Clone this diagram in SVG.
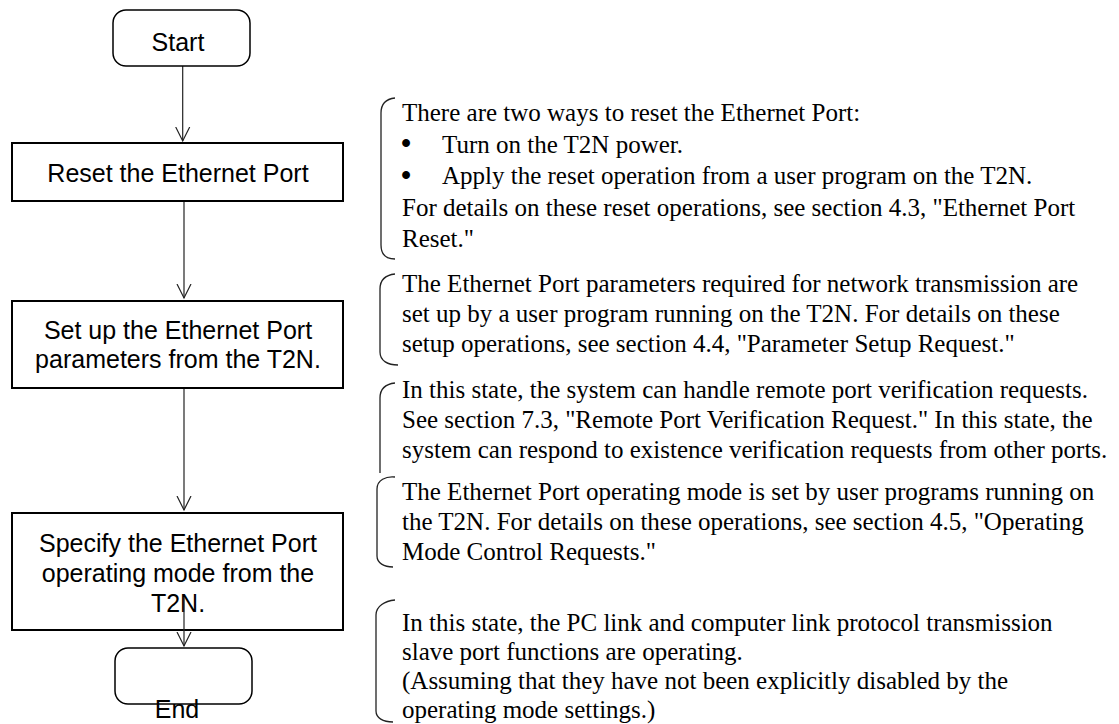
<svg xmlns="http://www.w3.org/2000/svg" width="1119" height="724" viewBox="0 0 1119 724">
<style>
.box{fill:#fff;stroke:#000;stroke-width:2}
.term{fill:#fff;stroke:#000;stroke-width:1.5}
.lbl{font-family:"Liberation Sans",Arial,sans-serif;font-size:25px;fill:#000;text-anchor:middle}
.note{font-family:"Liberation Serif","Times New Roman",serif;font-size:25px;fill:#000}
.bul{font-family:"Liberation Serif","Times New Roman",serif;font-size:29px;font-weight:bold;fill:#000}
.conn{stroke:#222;stroke-width:1.2;fill:none}
.brk{stroke:#222;stroke-width:1.3;fill:none}
</style>
<defs>
<marker id="v" viewBox="0 0 16 16" refX="14" refY="8" markerWidth="16" markerHeight="16" markerUnits="userSpaceOnUse" orient="auto">
<path d="M0,1 L14,8 L0,15" fill="none" stroke="#222" stroke-width="1.2"/>
</marker>
</defs>
<rect width="1119" height="724" fill="#fff"/>
<g id="connectors">
<line class="conn" x1="182.7" y1="66" x2="182.7" y2="141" marker-end="url(#v)"/>
<line class="conn" x1="184" y1="199" x2="184" y2="298" marker-end="url(#v)"/>
<line class="conn" x1="184" y1="385" x2="184" y2="510" marker-end="url(#v)"/>
</g>
<g id="start">
<rect class="term" x="113" y="10" width="137" height="56" rx="13"/>
<text class="lbl" x="178" y="51">Start</text>
</g>
<g id="reset">
<rect class="box" x="12" y="143" width="331" height="58"/>
<text class="lbl" x="178" y="182">Reset the Ethernet Port</text>
</g>
<g id="setup">
<rect class="box" x="12" y="301" width="331" height="87"/>
<text class="lbl" x="178" y="339">Set up the Ethernet Port</text>
<text class="lbl" x="178" y="368">parameters from the T2N.</text>
</g>
<g id="specify">
<rect class="box" x="12" y="513" width="331" height="117"/>
<text class="lbl" x="178" y="552">Specify the Ethernet Port</text>
<text class="lbl" x="178" y="582">operating mode from the</text>
<text class="lbl" x="178" y="612">T2N.</text>
</g>
<g id="end">
<rect class="term" x="115" y="648" width="137" height="56" rx="13"/>
<text class="lbl" x="177" y="718">End</text>
</g>
<g id="connector-end">
<line class="conn" x1="184" y1="597" x2="184" y2="646" marker-end="url(#v)"/>
</g>
<g id="note1">
<path class="brk" d="M395,98 C386,99 381,104 381,113 V245 C381,254 386,259 395,259"/>
<text class="note" x="402" y="121">There are two ways to reset the Ethernet Port:</text>
<text class="bul" x="401" y="153">•</text>
<text class="note" x="442" y="152.5">Turn on the T2N power.</text>
<text class="bul" x="401" y="184.5">•</text>
<text class="note" x="442" y="184">Apply the reset operation from a user program on the T2N.</text>
<text class="note" x="402" y="215.5">For details on these reset operations, see section 4.3, "Ethernet Port</text>
<text class="note" x="402" y="247">Reset."</text>
</g>
<g id="note2">
<path class="brk" d="M395,274 C386,275 380,280 380,289 V352 C380,361 388,365 398,365"/>
<text class="note" x="402" y="292">The Ethernet Port parameters required for network transmission are</text>
<text class="note" x="402" y="322">set up by a user program running on the T2N. For details on these</text>
<text class="note" x="402" y="352">setup operations, see section 4.4, "Parameter Setup Request."</text>
</g>
<g id="note3">
<path class="brk" d="M395,383 C386,384 380,389 380,398 V473"/>
<text class="note" x="402" y="398">In this state, the system can handle remote port verification requests.</text>
<text class="note" x="402" y="428">See section 7.3, "Remote Port Verification Request." In this state, the</text>
<text class="note" x="402" y="458">system can respond to existence verification requests from other ports.</text>
</g>
<g id="note4">
<path class="brk" d="M395,477 C386,476 377,480 377,489 V556 C377,563 384,567 393,567"/>
<text class="note" x="402" y="500">The Ethernet Port operating mode is set by user programs running on</text>
<text class="note" x="402" y="530">the T2N. For details on these operations, see section 4.5, "Operating</text>
<text class="note" x="402" y="560">Mode Control Requests."</text>
</g>
<g id="note5">
<path class="brk" d="M395,600 C385,601 376,606 376,615 V711 C376,718 383,722 393,722"/>
<text class="note" x="402" y="631">In this state, the PC link and computer link protocol transmission</text>
<text class="note" x="402" y="660">slave port functions are operating.</text>
<text class="note" x="402" y="689">(Assuming that they have not been explicitly disabled by the</text>
<text class="note" x="402" y="718">operating mode settings.)</text>
</g>
</svg>
